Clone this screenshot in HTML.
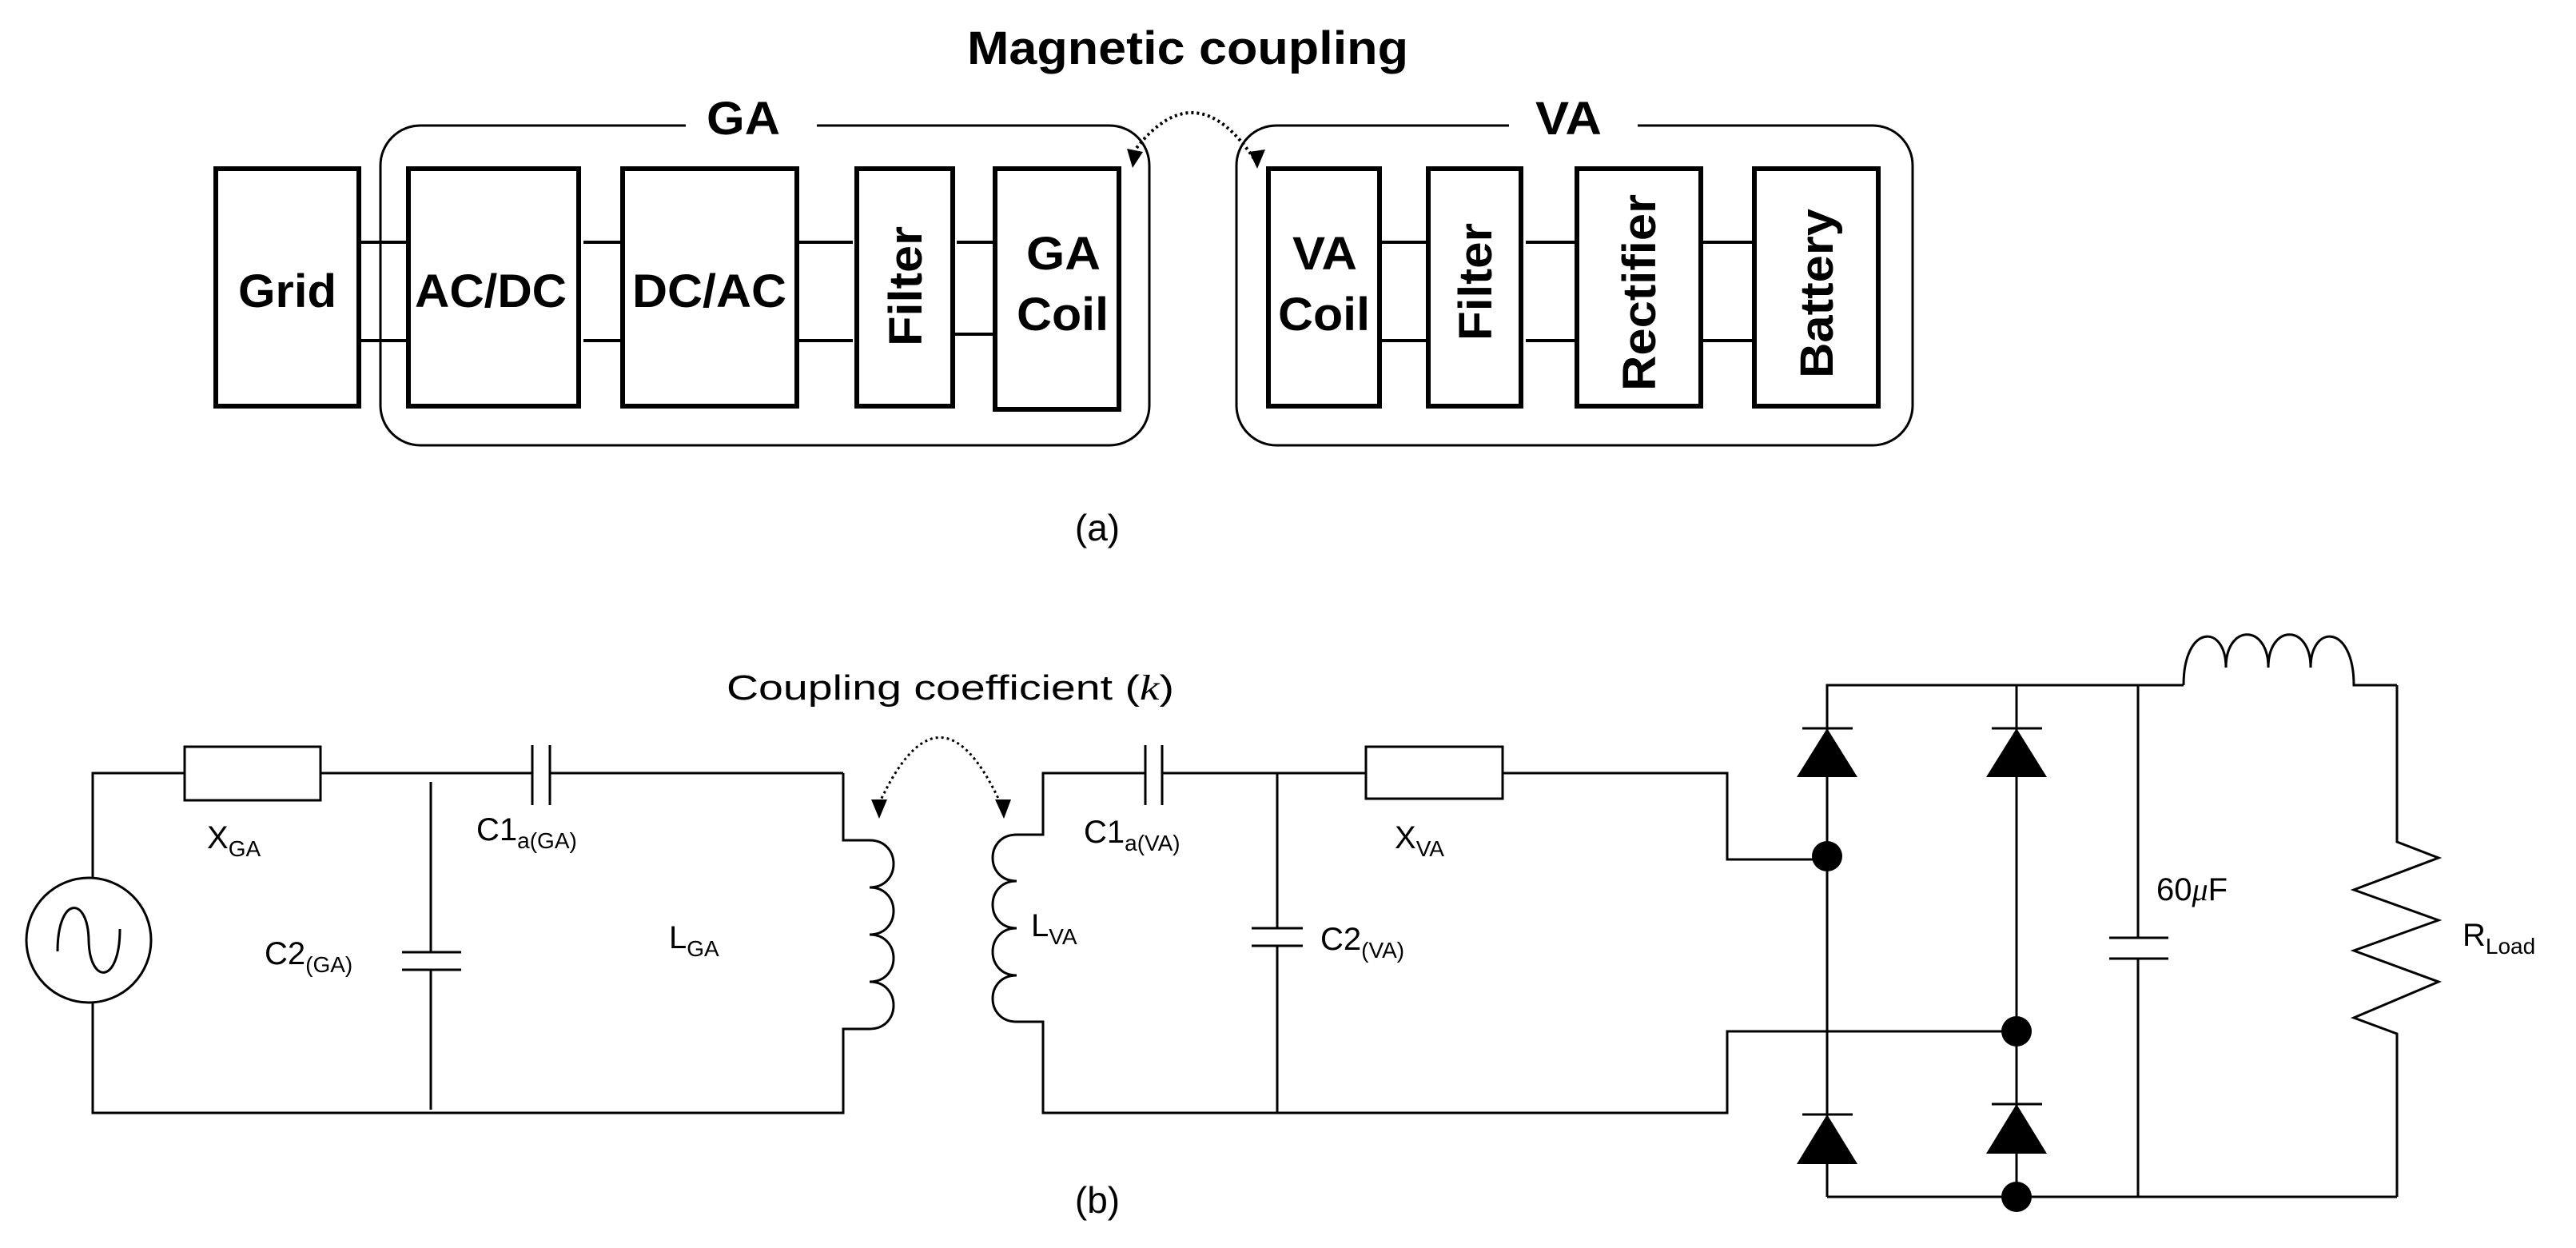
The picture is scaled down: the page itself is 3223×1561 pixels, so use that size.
<!DOCTYPE html>
<html><head><meta charset="utf-8"><style>html,body{margin:0;padding:0;background:#fff}svg{display:block}</style></head>
<body>
<svg width="3223" height="1561" viewBox="0 0 3223 1561" xmlns="http://www.w3.org/2000/svg" font-family="Liberation Sans, Arial, sans-serif">
<!-- (a) -->
<text x="1210" y="80" font-size="58" font-weight="bold" textLength="552" lengthAdjust="spacingAndGlyphs">Magnetic coupling</text>
<g fill="none" stroke="#000" stroke-width="3">
<path d="M858,157 H526 A50,50 0 0 0 476,207 V507 A50,50 0 0 0 526,557 H1388 A50,50 0 0 0 1438,507 V207 A50,50 0 0 0 1388,157 H1022"/>
<path d="M1888,157 H1597 A50,50 0 0 0 1547,207 V507 A50,50 0 0 0 1597,557 H2343 A50,50 0 0 0 2393,507 V207 A50,50 0 0 0 2343,157 H2049"/>
</g>
<text x="884" y="168" font-size="58" font-weight="bold" textLength="92" lengthAdjust="spacingAndGlyphs">GA</text>
<text x="1921" y="168" font-size="58" font-weight="bold" textLength="83" lengthAdjust="spacingAndGlyphs">VA</text>
<g fill="none" stroke="#000" stroke-width="6">
<rect x="270" y="211" width="179" height="297"/>
<rect x="511" y="211" width="213" height="297"/>
<rect x="779" y="211" width="218" height="297"/>
<rect x="1072" y="211" width="120" height="297"/>
<rect x="1245" y="211" width="155" height="301"/>
<rect x="1587" y="211" width="139" height="297"/>
<rect x="1787" y="211" width="116" height="297"/>
<rect x="1973" y="211" width="155" height="297"/>
<rect x="2195" y="211" width="155" height="297"/>
</g>
<g stroke="#000" stroke-width="4">
<line x1="449" y1="303" x2="511" y2="303"/><line x1="449" y1="426" x2="511" y2="426"/>
<line x1="730" y1="303" x2="779" y2="303"/><line x1="730" y1="426" x2="779" y2="426"/>
<line x1="997" y1="303" x2="1067" y2="303"/><line x1="997" y1="426" x2="1067" y2="426"/>
<line x1="1197" y1="303" x2="1245" y2="303"/><line x1="1192" y1="418" x2="1245" y2="418"/>
<line x1="1726" y1="303" x2="1787" y2="303"/><line x1="1726" y1="426" x2="1787" y2="426"/>
<line x1="1909" y1="303" x2="1973" y2="303"/><line x1="1909" y1="426" x2="1973" y2="426"/>
<line x1="2128" y1="303" x2="2195" y2="303"/><line x1="2128" y1="426" x2="2195" y2="426"/>
</g>
<g font-size="58" font-weight="bold" lengthAdjust="spacingAndGlyphs">
<text x="298" y="384" textLength="123" lengthAdjust="spacingAndGlyphs">Grid</text>
<text x="519" y="384" textLength="190" lengthAdjust="spacingAndGlyphs">AC/DC</text>
<text x="791" y="384" textLength="193" lengthAdjust="spacingAndGlyphs">DC/AC</text>
<text x="1284" y="337" textLength="93" lengthAdjust="spacingAndGlyphs">GA</text>
<text x="1272" y="413" textLength="115" lengthAdjust="spacingAndGlyphs">Coil</text>
<text x="1617" y="337" textLength="81" lengthAdjust="spacingAndGlyphs">VA</text>
<text x="1599" y="413" textLength="115" lengthAdjust="spacingAndGlyphs">Coil</text>
<text transform="translate(1153,433) rotate(-90)" textLength="150" lengthAdjust="spacingAndGlyphs">Filter</text>
<text transform="translate(1866,426) rotate(-90)" textLength="147" lengthAdjust="spacingAndGlyphs">Filter</text>
<text transform="translate(2071,489) rotate(-90)" textLength="246" lengthAdjust="spacingAndGlyphs">Rectifier</text>
<text transform="translate(2293,473) rotate(-90)" textLength="212" lengthAdjust="spacingAndGlyphs">Battery</text>
</g>
<path d="M1422,185 Q1497,90 1570,200" fill="none" stroke="#000" stroke-width="4" stroke-dasharray="3,4"/>
<path d="M1410,186 L1430,190 L1417,210 z" fill="#000"/>
<path d="M1563,190 L1583,187 L1573,211 z" fill="#000"/>
<text x="1373" y="676" font-size="46" text-anchor="middle">(a)</text>

<!-- (b) -->
<text x="909" y="875" font-size="44" textLength="560" lengthAdjust="spacingAndGlyphs">Coupling coefficient (<tspan font-family="Liberation Serif, serif" font-style="italic">k</tspan>)</text>
<path d="M1100,1005 Q1176,840 1252,1005" fill="none" stroke="#000" stroke-width="3" stroke-dasharray="3,4"/>
<path d="M1090,1000 L1110,1000 L1100,1024 z" fill="#000"/>
<path d="M1245,1000 L1265,1000 L1256,1024 z" fill="#000"/>
<g fill="none" stroke="#000" stroke-width="3">
<polyline points="231,967 116,967 116,1098"/>
<polyline points="116,1255 116,1392 1055,1392 1055,1287 1088,1287"/>
<circle cx="111" cy="1176" r="78"/>
<path d="M72,1190 C72,1120 110,1120 111,1176 C112,1232 150,1232 150,1162"/>
<rect x="231" y="934" width="170" height="67"/>
<polyline points="401,967 457,967 666,967"/>
<line x1="688" y1="967" x2="1055" y2="967"/>
<line x1="666" y1="932" x2="666" y2="1007"/><line x1="688" y1="932" x2="688" y2="1007"/>
<polyline points="1055,967 1055,1051 1088,1051"/>
<path d="M1088,1051 C1128,1051 1128,1110 1088,1110 C1128,1110 1128,1169 1088,1169 C1128,1169 1128,1228 1088,1228 C1128,1228 1128,1287 1088,1287"/>
<line x1="539" y1="978" x2="539" y2="1191"/><line x1="539" y1="1213" x2="539" y2="1388"/>
<line x1="503" y1="1191" x2="577" y2="1191"/><line x1="503" y1="1213" x2="577" y2="1213"/>
<polyline points="1272,1044 1305,1044 1305,967 1433,967"/>
<path d="M1272,1044 C1232,1044 1232,1102 1272,1102 C1232,1102 1232,1161 1272,1161 C1232,1161 1232,1220 1272,1220 C1232,1220 1232,1278 1272,1278"/>
<polyline points="1272,1278 1305,1278 1305,1392 2161,1392 2161,1290 2524,1290"/>
<line x1="1433" y1="932" x2="1433" y2="1007"/><line x1="1454" y1="932" x2="1454" y2="1007"/>
<line x1="1454" y1="967" x2="1709" y2="967"/>
<line x1="1598" y1="967" x2="1598" y2="1161"/><line x1="1598" y1="1183" x2="1598" y2="1392"/>
<line x1="1566" y1="1161" x2="1630" y2="1161"/><line x1="1566" y1="1183" x2="1630" y2="1183"/>
<rect x="1709" y="934" width="171" height="65"/>
<polyline points="1880,967 2161,967 2161,1075 2286,1075"/>
<polyline points="2286,1497 2286,857 2732,857"/>
<line x1="2523" y1="857" x2="2523" y2="1497"/>
<line x1="2286" y1="1497" x2="2999" y2="1497"/>
<line x1="2255" y1="911" x2="2318" y2="911"/><line x1="2492" y1="911" x2="2555" y2="911"/>
<line x1="2255" y1="1394" x2="2318" y2="1394"/><line x1="2492" y1="1381" x2="2555" y2="1381"/>
<path d="M2732,857 C2732,780 2785,780 2785,835 C2785,780 2838,780 2838,835 C2838,780 2891,780 2891,835 C2891,780 2945,780 2945,857 L2999,857"/>
<polyline points="2999,857 2999,1053 3051,1073 2945,1113 3051,1151 2945,1189 3051,1228 2945,1273 2999,1293 2999,1497"/>
<line x1="2675" y1="857" x2="2675" y2="1173"/><line x1="2675" y1="1199" x2="2675" y2="1497"/>
<line x1="2639" y1="1173" x2="2713" y2="1173"/><line x1="2639" y1="1199" x2="2713" y2="1199"/>
</g>
<g fill="#000">
<path d="M2286,911 L2248,972 L2324,972 z"/>
<path d="M2523,911 L2485,972 L2561,972 z"/>
<path d="M2286,1394 L2248,1456 L2324,1456 z"/>
<path d="M2523,1381 L2485,1443 L2561,1443 z"/>
<circle cx="2286" cy="1071" r="19"/>
<circle cx="2523" cy="1290" r="19"/>
<circle cx="2523" cy="1497" r="19"/>
</g>
<g font-size="40">
<text x="259" y="1061">X<tspan font-size="28" dy="10">GA</tspan></text>
<text x="596" y="1051">C1<tspan font-size="28" dy="10">a(GA)</tspan></text>
<text x="331" y="1206">C2<tspan font-size="28" dy="10">(GA)</tspan></text>
<text x="837" y="1186">L<tspan font-size="28" dy="10">GA</tspan></text>
<text x="1290" y="1171">L<tspan font-size="28" dy="10">VA</tspan></text>
<text x="1356" y="1054">C1<tspan font-size="28" dy="10">a(VA)</tspan></text>
<text x="1652" y="1188">C2<tspan font-size="28" dy="10">(VA)</tspan></text>
<text x="1745" y="1061">X<tspan font-size="28" dy="10">VA</tspan></text>
<text x="2698" y="1126">60<tspan font-family="Liberation Serif, serif" font-style="italic">μ</tspan>F</text>
<text x="3081" y="1183">R<tspan font-size="28" dy="10">Load</tspan></text>
<text x="1373" y="1517" font-size="46" text-anchor="middle">(b)</text>
</g>
</svg>
</body></html>
